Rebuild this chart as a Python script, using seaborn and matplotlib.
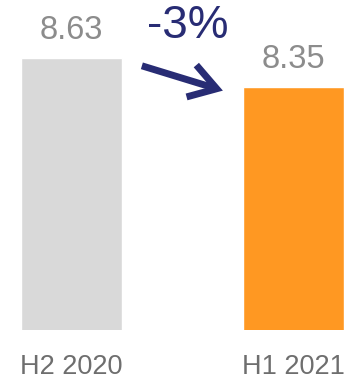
import matplotlib
matplotlib.use("Agg")
import matplotlib.pyplot as plt
import seaborn as sns
import pandas as pd

periods = ["H2 2020", "H1 2021"]
values = [8.63, 8.35]
bar_colors = ["#D9D9D9", "#FF9822"]

sns.set_theme(style="white")
plt.rcParams["font.family"] = ["Liberation Sans", "DejaVu Sans"]

df = pd.DataFrame({"period": periods, "value": values})

fig = plt.figure(figsize=(3.44, 3.81), dpi=100)
ax = fig.add_axes([0, 51 / 381, 1, 330 / 381])

sns.barplot(data=df, x="period", y="value", hue="period", palette=bar_colors,
            width=0.455, legend=False, ax=ax, saturation=1)

ax.set_xlim(-0.322, 1.2275)
ax.set_ylim(6.0, 6.0 + 330 / 103.4)
ax.set_xlabel("")
ax.set_ylabel("")
ax.set_yticks([])
ax.tick_params(axis="x", length=0, pad=17, labelsize=19.5, labelcolor="#6E6E6E")
for s in ax.spines.values():
    s.set_visible(False)

# value labels above bars
for i, v in enumerate(values):
    ax.annotate(f"{v:.2f}", xy=(i, v), xytext=(0, 14), textcoords="offset points",
                ha="center", va="baseline", fontsize=23.5, color="#8C8C8C")

# change arrow between bar tops
navy = "#282C74"
ax.annotate("", xy=(1 - 0.318, values[1] - 0.035), xytext=(0.317, values[0] - 0.075),
            arrowprops=dict(arrowstyle="->,head_length=0.95,head_width=0.6",
                            color=navy, lw=5, mutation_scale=20,
                            shrinkA=0, shrinkB=0, capstyle="butt",
                            joinstyle="miter"))

pct = (values[1] - values[0]) / values[0] * 100
ax.text(0.525, 8.94, f"{pct:.0f}%", ha="center", va="center",
        fontsize=33, color=navy)

fig.savefig("out.png", dpi=100)
